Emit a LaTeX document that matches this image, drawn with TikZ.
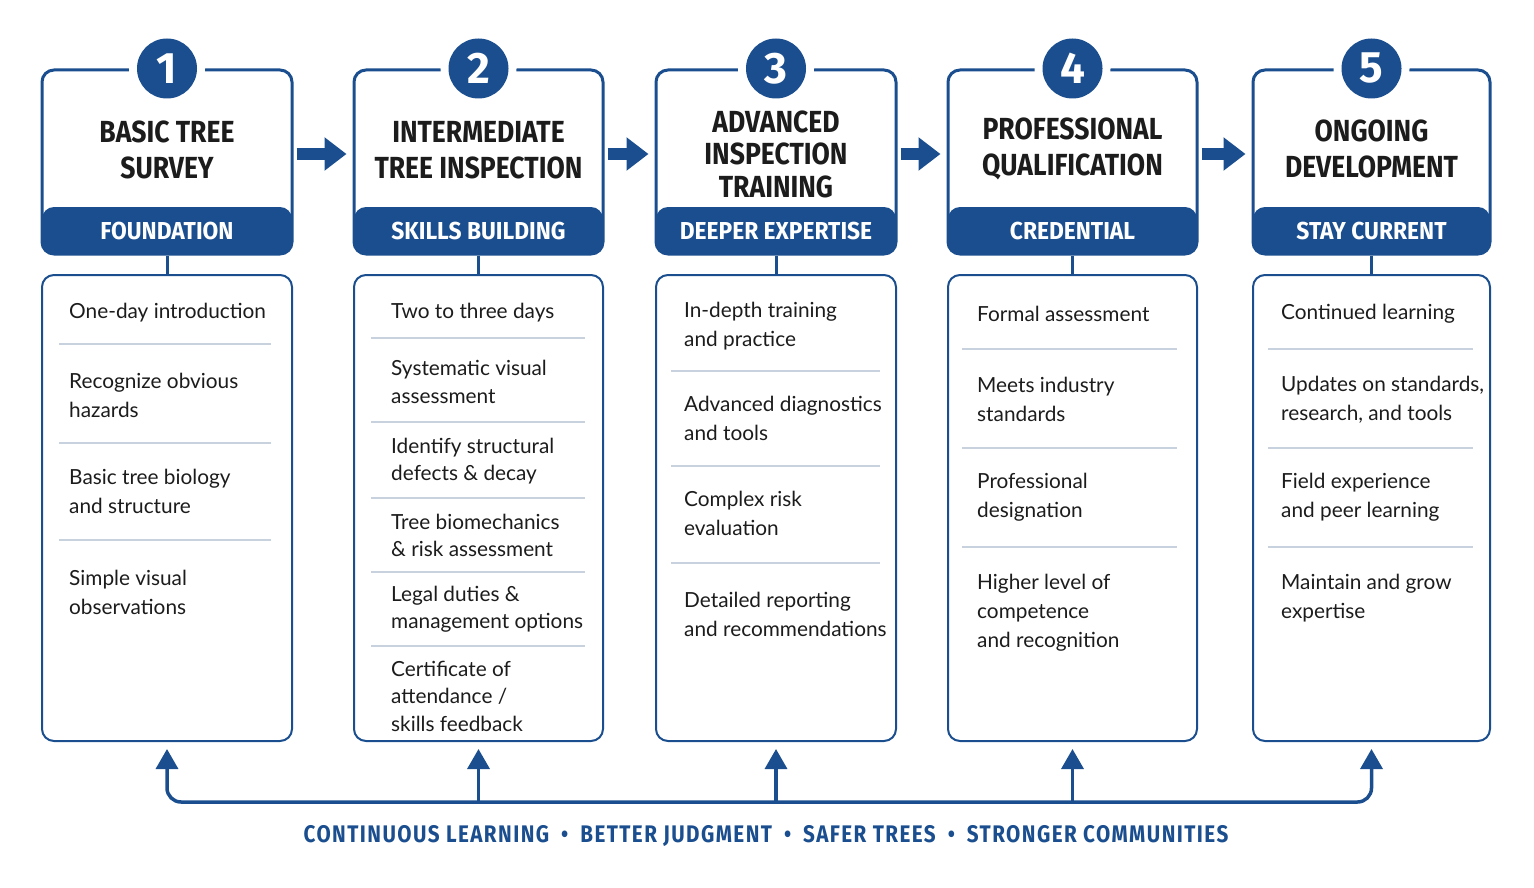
\documentclass[tikz,border=0pt]{standalone}
\usepackage{fontspec}
\setmainfont{Lato}
\newfontfamily\headfont[FakeStretch=0.87]{Fira Sans}
\newfontfamily\bandfont[FakeStretch=0.93]{Fira Sans}
\newfontfamily\tagfont[FakeStretch=0.86]{Fira Sans}
\newfontfamily\numfont{Fira Sans}
\usetikzlibrary{arrows.meta}
\definecolor{navy}{HTML}{1A4E8E}
\definecolor{sepgray}{HTML}{C8D2DE}
\definecolor{ink}{HTML}{1C1C1C}
\begin{document}
\begin{tikzpicture}[x=1pt,y=-1pt,
  headbox/.style={fill=white,draw=navy,line width=3pt,rounded corners=12pt,minimum height=184pt,inner sep=0pt,
    path picture={\fill[navy] (path picture bounding box.south west) rectangle ([yshift=47pt]path picture bounding box.south east);}},
  bodybox/.style={draw=navy,line width=2pt,rounded corners=12pt,minimum height=466pt,inner sep=0pt},
  numdot/.style={circle,fill=navy,minimum size=60pt,inner sep=0pt,text=white,preaction={draw=white,line width=16pt},
    font=\numfont\fontsize{44}{44}\selectfont\bfseries},
  title/.style={align=center,text=ink,font=\headfont\fontsize{30.5}{35.5}\selectfont\bfseries},
  band/.style={text=white,font=\bandfont\fontsize{24.5}{28}\selectfont\bfseries},
  item/.style={anchor=west,align=left,inner sep=0pt,text=ink,font=\fontsize{20.8}{29}\selectfont},
  sep/.style={draw=sepgray,line width=1.5pt},
  flow/.style={navy,line width=12pt,-{Triangle[width=32pt,length=22pt]}},
  back/.style={navy,line width=3.5pt,rounded corners=14pt,>={Triangle[width=22pt,length=20pt]}}]
\useasboundingbox (0,0) rectangle (1534,888);

% stage headers
\foreach \i/\cx/\w/\ty/\lead/\txt/\bnd in {
  1/167/250/150/35.5/{BASIC TREE\\SURVEY}/FOUNDATION,
  2/478.5/249/150/35.5/{INTERMEDIATE\\TREE INSPECTION}/SKILLS BUILDING,
  3/776/240/154/32.5/{ADVANCED\\INSPECTION\\TRAINING}/DEEPER EXPERTISE,
  4/1072.5/249/149/35.5/{PROFESSIONAL\\QUALIFICATION}/CREDENTIAL,
  5/1371.5/237/149/35.5/{ONGOING\\DEVELOPMENT}/STAY CURRENT}
{
  \node[headbox,minimum width=\w pt] (h\i) at (\cx,162) {};
  \node[title,font=\headfont\fontsize{30.5}{\lead}\selectfont\bfseries] (t\i) at (\cx,\ty) {\txt};
  \node[band] (b\i) at (\cx,231) {\bnd};
  \node[numdot] (n\i) at (h\i.north) {\i};
  \node[bodybox,minimum width=\w pt] (k\i) at (\cx,508) {};
  \draw[navy,line width=3pt] (h\i.south) -- (k\i.north);
}

% arrows between stages
\foreach \a/\b in {1/2,2/3,3/4,4/5}
  \draw[flow] ([xshift=3pt,yshift=8pt]h\a.east) -- ([xshift=-6pt,yshift=8pt]h\b.west);

% column 1
\foreach \y/\txt [count=\j] in {313/One-day introduction, 395/{Recognize obvious\\hazards},
  491/{Basic tree biology\\and structure}, 592.5/{Simple visual\\observations}}
  \node[item] (p1\j) at (69,\y) {\txt};
\foreach \y in {344,443,540}
  \draw[sep] (59,\y) -- (271,\y);

% column 2
\foreach \y/\txt [count=\j] in {313/Two to three days, 382/{Systematic visual\\assessment},
  461/{Identify structural\\defects \& decay}, 535.5/{Tree biomechanics\\\& risk assessment},
  609/{Legal duties \&\\management options}, 696/{Certificate of\\attendance /\\skills feedback}}
  \node[item,font=\fontsize{20.8}{27.5}\selectfont] (p2\j) at (391,\y) {\txt};
\foreach \y in {338,422,498,572,646}
  \draw[sep] (371,\y) -- (585,\y);

% column 3
\foreach \y/\txt [count=\j] in {326.5/{In-depth training\\and practice}, 418.5/{Advanced diagnostics\\and tools},
  513.5/{Complex risk\\evaluation}, 614/{Detailed reporting\\and recommendations}}
  \node[item] (p3\j) at (684,\y) {\txt};
\foreach \y in {371,466,563}
  \draw[sep] (671,\y) -- (880,\y);

% column 4
\foreach \y/\txt [count=\j] in {314/Formal assessment, 399.5/{Meets industry\\standards},
  497.5/{Professional\\designation}, 612.5/{Higher level of\\competence\\and recognition}}
  \node[item] (p4\j) at (977,\y) {\txt};
\foreach \y in {349,448,547}
  \draw[sep] (962,\y) -- (1177,\y);

% column 5
\foreach \y/\txt [count=\j] in {314/Continued learning, 399.5/{Updates on standards,\\research, and tools},
  497.5/{Field experience\\and peer learning}, 598/{Maintain and grow\\expertise}}
  \node[item] (p5\j) at (1281,\y) {\txt};
\foreach \y in {349,448,547}
  \draw[sep] (1268,\y) -- (1473,\y);

% feedback loop
\coordinate (base) at (0,802);
\draw[back,<->] ([yshift=-7pt]k1.south) -- (k1.south |- base) -- (k5.south |- base) -- ([yshift=-7pt]k5.south);
\foreach \i in {2,3,4}
  \draw[back,->] (k\i.south |- base) -- ([yshift=-7pt]k\i.south);

\node[text=navy,font=\tagfont\fontsize{24}{28}\selectfont\bfseries\addfontfeature{LetterSpace=6}] (tag) at (766,836)
  {CONTINUOUS LEARNING\hspace{12pt}•\hspace{12pt}BETTER JUDGMENT\hspace{12pt}•\hspace{12pt}SAFER TREES\hspace{12pt}•\hspace{12pt}STRONGER COMMUNITIES};
\end{tikzpicture}
\end{document}
